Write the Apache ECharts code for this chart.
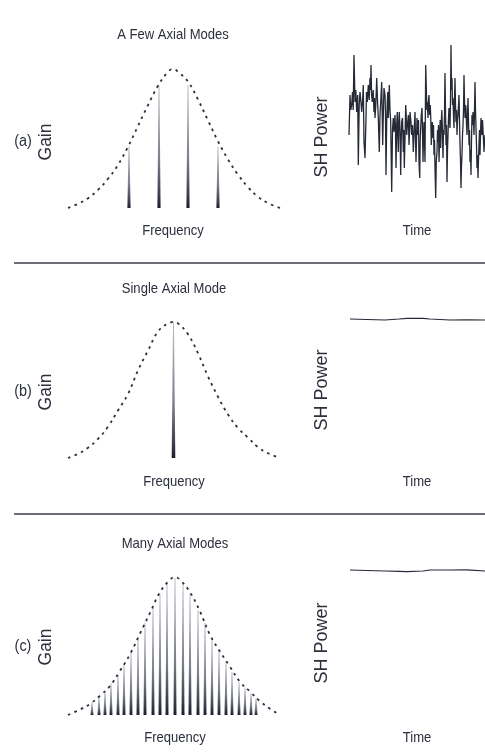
<!DOCTYPE html>
<html><head><meta charset="utf-8">
<script src="https://cdn.jsdelivr.net/npm/echarts@6/dist/echarts.min.js"></script>
<style>html,body{margin:0;padding:0;background:#fff}#c{width:485px;height:756px}</style>
</head><body><div id="c"></div>
<script>
// ---- Data ----
var curveX = [-105,-95,-85,-75,-65,-55,-45,-35,-25,-15,-5,0,5,15,25,35,45,55,65,75,85,95,107];
var curveA = [0,0.03,0.07,0.13,0.21,0.31,0.44,0.59,0.74,0.88,0.98,1.0,0.98,0.91,0.78,0.63,0.48,0.35,0.24,0.15,0.08,0.035,0];
var curveB = [0,0.03,0.075,0.14,0.23,0.35,0.47,0.645,0.79,0.93,0.99,1.0,0.99,0.91,0.77,0.6,0.45,0.32,0.22,0.15,0.08,0.035,0];
var curveXC = [-107,-95,-85,-75,-65,-55,-45,-35,-25,-15,-5,0,5,15,25,35,45,55,65,75,85,95,105];
var curveC = [0,0.04,0.08,0.14,0.21,0.32,0.44,0.59,0.74,0.89,0.98,1.0,0.98,0.89,0.75,0.58,0.46,0.35,0.24,0.17,0.1,0.045,0];
var modesAX = [-44,-14,15,45];
var modesAG = [0.445,0.885,0.885,0.44];
var modesBX = [0.5];
var modesBG = [1.0];
var modesCX = [-83,-76,-70,-64,-57,-51,-44,-37,-30,-22,-15,-8,0,8,15,23,30,37,44,51,57,64,70,76,81];
var modesCG = [0.09,0.13,0.17,0.23,0.29,0.37,0.46,0.56,0.67,0.78,0.88,0.96,0.995,0.96,0.88,0.76,0.67,0.55,0.47,0.39,0.31,0.24,0.2,0.16,0.12];
// SH power trace (a): [time, power]
var traceA = [[0,75],[1,115],[1.8,100],[2.7,105],[3.5,118],[4.2,100],[5,155],[6,108],[6.8,120],[7.7,98],[8.7,115],[9.3,45],[10.2,105],[11,118],[11.8,110],[12.7,98],[13.5,108],[14.3,125],[15,68],[16,52],[17,92],[17.5,118],[18.3,108],[19.3,125],[20.2,110],[21,132],[21.5,120],[22,145],[22.6,115],[23.3,108],[24.2,120],[25,98],[25.5,112],[26,92],[26.8,105],[27.7,132],[28.5,110],[29.3,92],[30.3,58],[31,95],[31.7,108],[32.7,128],[33.7,65],[34.4,100],[35,122],[36,115],[36.5,95],[37,35],[37.7,88],[38.3,108],[38.8,118],[39.3,92],[39.8,105],[40.3,125],[41,100],[41.7,88],[42.7,18],[43.5,80],[44.3,92],[45,78],[46,95],[46.5,80],[47,42],[47.7,85],[48.3,98],[48.8,75],[49.3,58],[49.8,88],[50.3,98],[51,80],[51.7,35],[52.2,70],[52.7,88],[53.5,92],[54.3,58],[54.8,80],[55.3,42],[56,72],[56.7,105],[57.2,95],[57.7,75],[58.2,82],[58.7,88],[59.4,95],[60,65],[60.5,78],[61,98],[61.8,90],[62.7,75],[63.5,85],[64.3,58],[65.2,80],[66,98],[66.5,72],[67,48],[67.5,70],[68,92],[68.5,80],[69,75],[69.5,90],[70,48],[70.7,32],[71.2,70],[71.7,82],[72.3,95],[73,102],[73.5,80],[74,48],[74.5,75],[75,88],[75.5,70],[76,48],[76.7,145],[77.3,122],[77.8,100],[78.3,108],[79,92],[79.5,110],[80,115],[80.6,95],[81.3,105],[81.8,90],[82.3,65],[82.8,80],[83.3,88],[84,72],[84.5,85],[85,55],[85.5,70],[86,42],[86.7,12],[87.3,50],[88,58],[88.5,80],[89,68],[89.5,85],[90,48],[90.7,75],[91.2,90],[91.7,62],[92.3,88],[92.8,100],[93.3,85],[94,52],[94.5,80],[95,75],[95.5,95],[96,137],[96.5,100],[97,65],[97.5,85],[98,28],[98.5,60],[99,75],[99.5,92],[100,102],[100.5,90],[101,82],[101.5,110],[102,165],[102.5,120],[103,132],[103.5,105],[104,112],[104.5,95],[105,82],[105.5,110],[106,132],[106.5,105],[107,88],[107.5,100],[108,75],[108.5,90],[109,95],[109.5,105],[110,115],[110.5,90],[111,65],[111.5,50],[112,22],[112.5,45],[113,55],[113.5,75],[114,85],[114.5,100],[115,135],[115.5,110],[116,92],[116.5,105],[117,102],[117.5,85],[118,75],[118.5,95],[119,112],[119.5,90],[120,65],[120.5,80],[121,48],[121.5,60],[122,35],[122.5,70],[123,95],[123.5,85],[124,98],[124.5,90],[125,75],[125.5,100],[126,128],[126.5,100],[127,82],[127.5,65],[128,42],[128.5,55],[129,32],[129.5,50],[130,65],[130.5,80],[131,55],[131.5,75],[132,92],[132.5,80],[133,75],[133.5,90],[134,88],[134.5,70],[135,58],[135.5,70],[136,75]];
var timeFlat = [1,18,36,50,58,74,81,101,118,136];
var powerB = [21,20.5,20,21,21.7,21.7,21,20,20.2,20];
var powerC = [20,19.5,19,18.6,18.3,19,20,20,20.2,19];
var titles = ['A Few Axial Modes','Single Axial Mode','Many Axial Modes'];
var panelLabels = ['(a)','(b)','(c)'];

function pairs(xs, ys){ return xs.map(function(x,i){return [x, ys[i]];}); }

var FONT = "'Liberation Sans', Arial, Helvetica, sans-serif";
var INK = '#2c2f3c';

var grids = [
  {left:68, width:212, top:69, height:139},
  {left:68, width:212, top:322, height:136},
  {left:68, width:212, top:577, height:138},
  {left:349, width:136, top:35, height:175},
  {left:349, width:136, top:300, height:40},
  {left:349, width:136, top:550, height:40}
];
var xAxes = [
  {gridIndex:0, type:'value', min:-105, max:107, show:false},
  {gridIndex:1, type:'value', min:-105, max:107, show:false},
  {gridIndex:2, type:'value', min:-107, max:105, show:false},
  {gridIndex:3, type:'value', min:0, max:136, show:false},
  {gridIndex:4, type:'value', min:0, max:136, show:false},
  {gridIndex:5, type:'value', min:0, max:136, show:false}
];
var yAxes = [
  {gridIndex:0, type:'value', min:0, max:1, show:false},
  {gridIndex:1, type:'value', min:0, max:1, show:false},
  {gridIndex:2, type:'value', min:0, max:1, show:false},
  {gridIndex:3, type:'value', min:0, max:175, show:false},
  {gridIndex:4, type:'value', min:0, max:40, show:false},
  {gridIndex:5, type:'value', min:0, max:40, show:false}
];

function curveSeries(idx, data){
  return {type:'line', xAxisIndex:idx, yAxisIndex:idx, data:data, smooth:0.4, symbol:'none',
    silent:true, animation:false,
    lineStyle:{color:INK, width:1.8, type:[2.6,4.4]}};
}
function modeSeries(idx, data, baseW){
  return {type:'custom', xAxisIndex:idx, yAxisIndex:idx, data:data, animation:false, silent:true,
    renderItem:function(params, api){
      var p0 = api.coord([api.value(0), 0]);
      var p1 = api.coord([api.value(0), api.value(1)]);
      return {type:'polygon', shape:{points:[[p0[0]-baseW,p0[1]],[p0[0]+baseW,p0[1]],[p1[0]+0.45,p1[1]],[p1[0]-0.45,p1[1]]]},
        style:{fill:{type:'linear',x:0,y:0,x2:0,y2:1,colorStops:[
          {offset:0,color:'#b9bdc7'},{offset:0.6,color:'#7d818d'},{offset:0.9,color:'#3a3d4b'},{offset:1,color:'#1b1e2c'}]}}};
    }};
}
function traceSeries(idx, data, w){
  return {type:'line', xAxisIndex:idx, yAxisIndex:idx, data:data, symbol:'none', silent:true, animation:false,
    lineStyle:{color:'#262936', width:w}};
}

function txt(text, x, y, size, rot, sx){
  return {type:'text', x:x, y:y, rotation:rot||0, scaleX:sx||1, silent:true,
    style:{text:text, x:0, y:0, font:size+'px '+FONT, fill:INK,
      textAlign:'center', textVerticalAlign:'middle', align:'center', verticalAlign:'middle'}};
}

var graphics = [
  {type:'line', shape:{x1:14,y1:263,x2:485,y2:263}, style:{stroke:'#3b3e4a', lineWidth:1.3}},
  {type:'line', shape:{x1:14,y1:514,x2:485,y2:514}, style:{stroke:'#3b3e4a', lineWidth:1.3}}
];
var rowY = [
  {title:35, mid:142, freq:231, sh:137},
  {title:289, mid:392, freq:482, sh:390},
  {title:544, mid:647, freq:738, sh:643}
];
var titleX = [173,174,175];
rowY.forEach(function(r,i){
  graphics.push(txt(titles[i], titleX[i], r.title, 14.5, 0, 0.9));
  graphics.push(txt(panelLabels[i], 23, r.mid, 16, 0, 0.9));
  graphics.push(txt('Gain', 46, r.mid, 17.5, Math.PI/2, 1));
  graphics.push(txt('Frequency', titleX[i], r.freq, 14.5, 0, 0.9));
  graphics.push(txt('SH Power', 322, r.sh, 18, Math.PI/2, 1));
  graphics.push(txt('Time', 417, r.freq, 14.5, 0, 0.9));
});

var chart = echarts.init(document.getElementById('c'), null, {renderer:'canvas'});
chart.setOption({
  backgroundColor:'#ffffff',
  animation:false,
  grid:grids, xAxis:xAxes, yAxis:yAxes,
  series:[
    curveSeries(0, pairs(curveX, curveA)),
    curveSeries(1, pairs(curveX, curveB)),
    curveSeries(2, pairs(curveXC, curveC)),
    modeSeries(0, pairs(modesAX, modesAG), 1.6),
    modeSeries(1, pairs(modesBX, modesBG), 1.8),
    modeSeries(2, pairs(modesCX, modesCG), 1.5),
    traceSeries(3, traceA, 1.3),
    traceSeries(4, pairs(timeFlat, powerB), 1.2),
    traceSeries(5, pairs(timeFlat, powerC), 1.2)
  ],
  graphic:graphics
});
</script></body></html>
